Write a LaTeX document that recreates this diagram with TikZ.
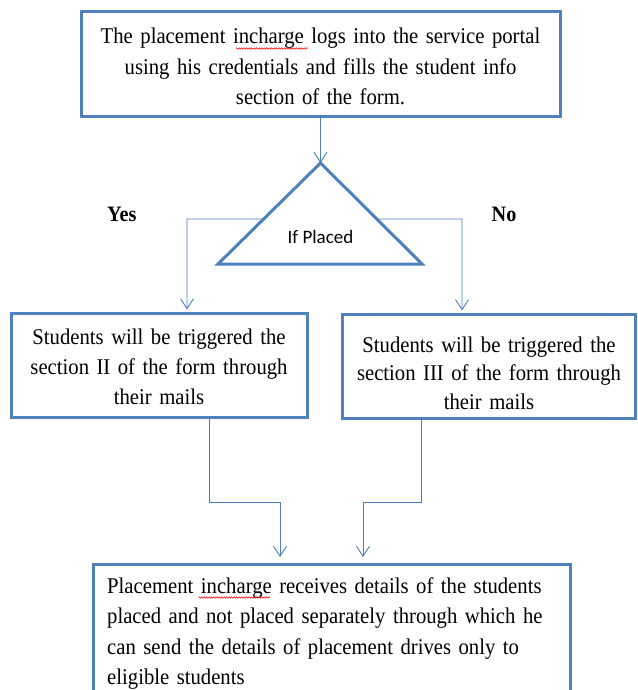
\documentclass[tikz,border=0pt]{standalone}
\usepackage{fontspec}
\setmainfont{Liberation Serif}[FakeStretch=0.92]
\newfontfamily\calibfont{Carlito}
\usetikzlibrary{arrows.meta,calc,decorations.pathmorphing}
\definecolor{boxblue}{HTML}{4F81BD}
\definecolor{lineblue}{HTML}{4A7EBB}
\begin{document}
\begin{tikzpicture}[x=1pt,y=-1pt,
  box/.style={draw=boxblue, line width=3pt, rectangle, inner sep=0pt},
  conn/.style={draw=lineblue, line width=0.9pt, -{Straight Barb[length=10pt,width=13pt]}},
  txt/.style={font=\fontsize{22.5}{30.5}\selectfont, inner sep=0pt, align=center, anchor=base},
  lbl/.style={font=\bfseries\fontsize{22}{24}\selectfont, inner sep=0pt, anchor=base},
  squig/.style={draw=red, line width=0.5pt, decorate, decoration={zigzag, amplitude=0.8pt, segment length=2.5pt}}]
\useasboundingbox (0,0) rectangle (637,690);
\clip (0,0) rectangle (637,690);
\fill[white] (0,0) rectangle (637,690);

% top box
\node[box, minimum width=479pt, minimum height=105pt] (top) at (320.5,64.5) {};
\node[txt, text width=470pt] (toptext) at (320.5,44)
  {The placement incharge logs into the service portal\\using his credentials and fills the student info\\section of the form.};
\draw[squig] (236,48.5) -- (307.5,48.5);

% decision triangle
\coordinate (tA) at (320.5,163);
\coordinate (tL) at (218,264);
\coordinate (tR) at (422,264);
\draw[boxblue, line width=3pt, line join=miter] (tA) -- (tL) -- (tR) -- cycle;
\node[font=\calibfont\fontsize{19}{22}\selectfont, inner sep=0pt, anchor=base] (ifp) at (320.5,243) {If Placed};
\coordinate (yS) at ($(tA)!0.554!(tL)$);
\coordinate (nS) at ($(tA)!0.554!(tR)$);
\coordinate (ybend) at (187,219);
\coordinate (nbend) at (462,219);

% labels
\node[lbl, anchor=base west] (yes) at (107,221) {Yes};
\node[lbl] (no) at (504,221) {No};

% side boxes
\node[box, minimum width=296pt, minimum height=104pt] (lbox) at (159,365) {};
\node[txt, text width=285pt, font=\fontsize{22.5}{30}\selectfont] (ltext) at (159,344)
  {Students will be triggered the\\section II of the form through\\their mails};
\node[box, minimum width=293.5pt, minimum height=104pt] (rbox) at (488.75,366) {};
\node[txt, text width=285pt, font=\fontsize{22.5}{28.5}\selectfont] (rtext) at (489,352)
  {Students will be triggered the\\section III of the form through\\their mails};

% bottom box
\node[box, minimum width=477pt, minimum height=140pt, anchor=north] (bot) at (331.5,563) {};
\node[txt, align=left, text width=460pt, anchor=base west] (bottext) at (107,593)
  {Placement incharge receives details of the students\\placed and not placed separately through which he\\can send the details of placement drives only to\\eligible students};
\draw[squig] (198.5,597.5) -- (270,597.5);

% connectors
\draw[conn] (top.south -| tA) -- (tA);
\draw[conn, shorten >=2pt] (yS) -- (ybend) -- (ybend |- lbox.north);
\draw[conn, shorten >=2pt] (nS) -- (nbend) -- (nbend |- rbox.north);

\coordinate (lbend) at (209,502);
\coordinate (lin) at (280,502);
\coordinate (rbend) at (421,502);
\coordinate (rin) at (363,502);
\draw[conn, shorten >=6pt] (lbox.south -| lbend) -- (lbend) -- (lin) -- (lin |- bot.north);
\draw[conn, shorten >=6pt] (rbox.south -| rbend) -- (rbend) -- (rin) -- (rin |- bot.north);
\end{tikzpicture}
\end{document}
